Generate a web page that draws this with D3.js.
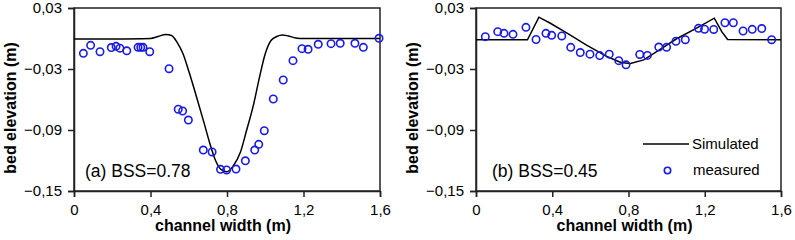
<!DOCTYPE html>
<html>
<head>
<meta charset="utf-8">
<script src="https://cdn.jsdelivr.net/npm/d3@7"></script>
<style>
  body { margin: 0; background: #fff; }
  text { font-family: "Liberation Sans", Arial, sans-serif; fill: #000; }
</style>
</head>
<body>
<script>
// panel (a) - measured points
const measA_x = [0.049, 0.087, 0.136, 0.195, 0.220, 0.240, 0.276, 0.335, 0.349, 0.361, 0.396, 0.497,
  0.545, 0.568, 0.598, 0.676, 0.722, 0.766, 0.798, 0.847, 0.896, 0.945, 0.966, 0.995, 1.042,
  1.094, 1.145, 1.192, 1.224, 1.277, 1.344, 1.392, 1.469, 1.513, 1.595];
const measA_y = [-0.0146, -0.0067, -0.0130, -0.0089, -0.0077, -0.0095, -0.0121, -0.0087, -0.0087, -0.0087, -0.0130, -0.0297,
  -0.0696, -0.0713, -0.0802, -0.1097, -0.1116, -0.1287, -0.1293, -0.1284, -0.1203, -0.1097, -0.1041, -0.0907, -0.0595,
  -0.0408, -0.0218, -0.0100, -0.0106, -0.0057, -0.0051, -0.0047, -0.0047, -0.0087, 0.0002];

// panel (a) - simulated profile
const simA_x = [0.0, 0.2, 0.40, 0.44, 0.48, 0.51, 0.54, 0.57, 0.60, 0.64, 0.68, 0.71, 0.74, 0.77,
  0.80, 0.83, 0.87, 0.90, 0.94, 0.97, 1.00, 1.03, 1.06, 1.09, 1.12, 1.16, 1.2, 1.6];
const simA_y = [-0.0006, -0.0005, 0.0, 0.002, 0.004, 0.003, -0.004, -0.015, -0.032, -0.057, -0.083, -0.103, -0.12, -0.129,
  -0.131, -0.126, -0.112, -0.092, -0.064, -0.038, -0.015, -0.002, 0.002, 0.0035, 0.0025, 0.0005, 0.0, 0.0];

// panel (b) - measured points
const measB_x = [0.049, 0.114, 0.147, 0.194, 0.262, 0.315, 0.367, 0.397, 0.450, 0.497, 0.547, 0.598, 0.649,
  0.699, 0.749, 0.787, 0.859, 0.899, 0.959, 1.000, 1.049, 1.098, 1.167, 1.199, 1.247, 1.306,
  1.350, 1.401, 1.449, 1.499, 1.551];
const measB_y = [0.0018, 0.0067, 0.0051, 0.0041, 0.0110, -0.0010, 0.0051, 0.0031, 0.0025, -0.0087, -0.0138, -0.0154, -0.0168,
  -0.0154, -0.0218, -0.0259, -0.0157, -0.0166, -0.0084, -0.0086, -0.0027, -0.0012, 0.0100, 0.0091, 0.0089, 0.0155,
  0.0155, 0.0074, 0.0090, 0.0098, -0.0012];

// panel (b) - simulated profile
const simB_x = [0, 0.27, 0.33, 0.39, 0.48, 0.58, 0.69, 0.76, 0.81, 0.88, 0.96, 1.05, 1.15, 1.25, 1.29, 1.32, 1.6];
const simB_y = [-0.0012, -0.0012, 0.021, 0.015, 0.005, -0.0065, -0.018, -0.0235, -0.0245, -0.021, -0.0115, -0.0005,
  0.0095, 0.020, 0.0065, -0.001, -0.0012];

const xTicks = [0, 0.4, 0.8, 1.2, 1.6];
const yTicks = [0.03, -0.03, -0.09, -0.15];
const fmt = d => d3.format(".2~f")(d).replace(".", ",");

const svg = d3.select("body")
    .append("svg")
    .attr("width", 795)
    .attr("height", 240);

function panel(left, right, label, labelX, mx, my, sx, sy, curve, legend) {
    const x = d3.scaleLinear().domain([0, 1.6]).range([left, right]);
    const y = d3.scaleLinear().domain([-0.15, 0.03]).range([191, 8]);
    const g = svg.append("g");

    // frame
    g.append("rect")
        .attr("x", left).attr("y", 8)
        .attr("width", right - left).attr("height", 183)
        .attr("fill", "none").attr("stroke", "#222").attr("stroke-width", 1.5);

    const xAxis = g.append("g")
        .attr("transform", `translate(0,191)`)
        .call(d3.axisBottom(x).tickValues(xTicks).tickSize(6).tickPadding(7)
            .tickFormat(d => d === 0 ? "0" : d3.format(".1f")(d).replace(".", ",")));
    const yAxis = g.append("g")
        .attr("transform", `translate(${left},0)`)
        .call(d3.axisLeft(y).tickValues(yTicks).tickSize(6).tickPadding(6).tickFormat(fmt));
    [xAxis, yAxis].forEach(a => {
        a.select(".domain").attr("stroke", "#222").attr("stroke-width", 1.5);
        a.selectAll(".tick line").attr("stroke", "#222").attr("stroke-width", 1.5);
        a.selectAll("text").attr("font-size", 15).attr("font-family", "Liberation Sans, Arial, sans-serif").attr("fill", "#000");
    });

    // simulated line
    const line = d3.line().x(d => x(d[0])).y(d => y(d[1])).curve(curve);
    g.append("path")
        .datum(sx.map((v, i) => [v, sy[i]]))
        .attr("d", line)
        .attr("fill", "none").attr("stroke", "#000").attr("stroke-width", 1.5);

    // measured points
    g.selectAll(".pt")
        .data(mx.map((v, i) => [v, my[i]]))
        .enter().append("circle")
        .attr("cx", d => x(d[0])).attr("cy", d => y(d[1]))
        .attr("r", 3.7)
        .attr("fill", "none").attr("stroke", "#1a1ae6").attr("stroke-width", 1.6);

    g.append("text")
        .attr("x", labelX).attr("y", 177)
        .attr("font-size", 17.5)
        .text(label);

    g.append("text")
        .attr("x", (left + right) / 2 - 4).attr("y", 231)
        .attr("text-anchor", "middle")
        .attr("font-size", 16).attr("font-weight", "bold")
        .text("channel width (m)");

    g.append("text")
        .attr("transform", `translate(${left - 58},108) rotate(-90)`)
        .attr("text-anchor", "middle")
        .attr("font-size", 16).attr("font-weight", "bold")
        .text("bed elevation (m)");

    if (legend) {
        g.append("line")
            .attr("x1", 643).attr("x2", 689).attr("y1", 144).attr("y2", 144)
            .attr("stroke", "#000").attr("stroke-width", 1.5);
        g.append("text").attr("x", 692).attr("y", 149).attr("font-size", 15).text("Simulated");
        g.append("circle")
            .attr("cx", 667.5).attr("cy", 170.5).attr("r", 3.2)
            .attr("fill", "none").attr("stroke", "#1a1ae6").attr("stroke-width", 1.6);
        g.append("text").attr("x", 693).attr("y", 174.5).attr("font-size", 15).text("measured");
    }
}

panel(74, 380, "(a) BSS=0.78", 85, measA_x, measA_y, simA_x, simA_y, d3.curveMonotoneX, false);
panel(476, 781, "(b) BSS=0.45", 492, measB_x, measB_y, simB_x, simB_y, d3.curveLinear, true);
</script>
</body>
</html>
